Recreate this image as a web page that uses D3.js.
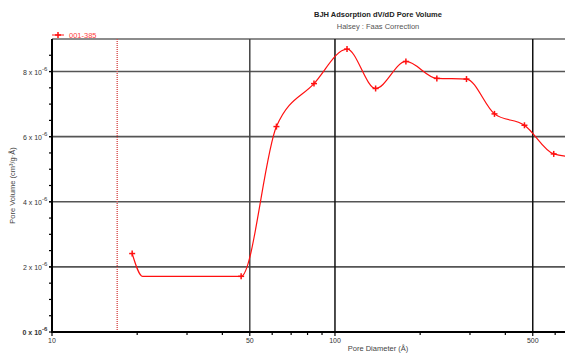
<!DOCTYPE html>
<html>
<head>
<meta charset="utf-8">
<script src="https://cdn.jsdelivr.net/npm/d3@7"></script>
<style>
  body { margin: 0; background: #fff; }
  text { font-family: "Liberation Sans", Arial, sans-serif; }
</style>
</head>
<body>
<div id="chart"></div>
<script>
// pore diameter (Å) and dV/dD pore volume (x 10^-6 cm³/g·Å)
var poreDiameter = [19.2, 20.9, 46.6, 62.1, 84.3, 110.3, 139.2, 178.1, 229.1, 291.6, 366.2, 467.3, 593, 730]
var poreVolume   = [2.41, 1.71, 1.71, 6.31, 7.63, 8.69, 7.48, 8.31, 7.79, 7.77, 6.70, 6.35, 5.47, 5.36]
var hasMarker    = [true, false, true, true, true, true, true, true, true, true, true, true, true, false]
var seriesName = "001-385"
var cutoffDiameter = 17
var yTicks = [0, 2, 4, 6, 8]
var yMinorTicks = d3.range(0.5, 9, 0.5)
var xLabelTicks = [10, 50, 100, 500]
var xMinorTicks = [20, 30, 40, 60, 70, 80, 90, 200, 300, 400, 600]

var W = 565, H = 354
var pLeft = 52, pRight = 565, pTop = 39, pBottom = 332

var data = poreDiameter.map((d,i)=>({d:d, v:poreVolume[i], m:hasMarker[i]}))

var svg = d3.select("#chart").append("svg").attr("width",W).attr("height",H)

var x = d3.scaleLog().domain([10,650]).range([pLeft,pRight])
var y = d3.scaleLinear().domain([0,9]).range([pBottom,pTop])

svg.append("defs").append("clipPath").attr("id","plot")
  .append("rect").attr("x",pLeft).attr("y",pTop).attr("width",pRight-pLeft).attr("height",pBottom-pTop)

// grid
svg.selectAll(".hgrid").data(yTicks.filter(d=>d>0).concat([9])).enter().append("line")
  .attr("x1",pLeft).attr("x2",pRight).attr("y1",d=>y(d)).attr("y2",d=>y(d))
  .style("stroke",(d)=>d==9?"#666":"#555").style("stroke-width",1.6)
svg.selectAll(".vgrid").data([50,100,500]).enter().append("line")
  .attr("x1",d=>x(d)).attr("x2",d=>x(d)).attr("y1",pTop).attr("y2",pBottom)
  .style("stroke",d=>d==50?"#444":"#111").style("stroke-width",1.5)

// cutoff line
svg.append("line")
  .attr("x1",x(cutoffDiameter)).attr("x2",x(cutoffDiameter)).attr("y1",pTop).attr("y2",pBottom)
  .style("stroke","#d85050").style("stroke-width",1.4).style("stroke-dasharray","1,1")

// axes
var yAxis = svg.append("g")
yAxis.append("line").attr("x1",pLeft).attr("x2",pLeft).attr("y1",pTop).attr("y2",pBottom+1)
  .style("stroke","#000").style("stroke-width",2)
yAxis.selectAll(".ytick").data(yMinorTicks.concat(yTicks)).enter().append("line")
  .attr("x1",pLeft-3).attr("x2",pLeft).attr("y1",d=>y(d)).attr("y2",d=>y(d))
  .style("stroke","#000").style("stroke-width",1.2)
yAxis.selectAll(".ylab").data(yTicks).enter().append("text")
  .attr("x",pLeft-10).attr("y",d=>y(d)+3)
  .attr("text-anchor","end").style("font-size","7px").style("fill","#333")
  .style("font-weight",d=>d==0?"bold":"normal")
  .text(d=>d+" x 10")
yAxis.selectAll(".yexp").data(yTicks).enter().append("text")
  .attr("x",pLeft-10).attr("y",d=>y(d)-1)
  .style("font-size","6px").style("fill","#333")
  .style("font-weight",d=>d==0?"bold":"normal")
  .text("-6")

var xAxis = svg.append("g")
xAxis.append("line").attr("x1",pLeft-1).attr("x2",pRight).attr("y1",pBottom).attr("y2",pBottom)
  .style("stroke","#000").style("stroke-width",2)
xAxis.selectAll(".xtick").data(xMinorTicks.concat(xLabelTicks)).enter().append("line")
  .attr("x1",d=>x(d)).attr("x2",d=>x(d)).attr("y1",pBottom).attr("y2",d=>xLabelTicks.includes(d)?pBottom+4:pBottom+3)
  .style("stroke","#000").style("stroke-width",1.2)
xAxis.selectAll(".xlab").data(xLabelTicks).enter().append("text")
  .attr("x",d=>x(d)).attr("y",pBottom+11)
  .attr("text-anchor","middle").style("font-size","7px").style("fill","#333")
  .text(d=>d)

svg.append("text").attr("x",378).attr("y",351).attr("text-anchor","middle")
  .style("font-size","7.5px").style("fill","#444").text("Pore Diameter (Å)")
svg.append("text").attr("transform","translate(15,"+((pTop+pBottom)/2)+") rotate(-90)")
  .attr("text-anchor","middle").style("font-size","7.5px").style("fill","#444")
  .text("Pore Volume (cm³/g·Å)")

// titles
svg.append("text").attr("x",378).attr("y",17).attr("text-anchor","middle")
  .style("font-size","7.5px").style("font-weight","bold").style("fill","#222")
  .text("BJH Adsorption dV/dD Pore Volume")
svg.append("text").attr("x",378).attr("y",29).attr("text-anchor","middle")
  .style("font-size","7.5px").style("fill","#555")
  .text("Halsey : Faas Correction")

// series
var line = d3.line().x(d=>x(d.d)).y(d=>y(d.v)).curve(d3.curveMonotoneX)
var g = svg.append("g").attr("clip-path","url(#plot)")
g.append("path").datum(data).attr("d",line)
  .style("fill","none").style("stroke","#ff1010").style("stroke-width",1.2)

function plus(sel){
  sel.append("line").attr("x1",-3).attr("x2",3).attr("y1",0).attr("y2",0)
  sel.append("line").attr("x1",0).attr("x2",0).attr("y1",-3).attr("y2",3)
  sel.selectAll("line").style("stroke","#ff1010").style("stroke-width",1.5)
}
g.selectAll("g.pt").data(data.filter(d=>d.m)).enter().append("g").classed("pt",true)
  .attr("transform",d=>"translate("+x(d.d)+","+y(d.v)+")")
  .call(plus)

// legend
var leg = svg.append("g").attr("transform","translate(52,35)")
leg.append("line").attr("x1",0).attr("x2",12).attr("y1",0).attr("y2",0)
  .style("stroke","#ff4040").style("stroke-width",1.2)
leg.append("g").attr("transform","translate(6,0)").call(plus)
leg.append("text").attr("x",17).attr("y",3).style("font-size","7.5px").style("fill","#ff4040")
  .text(seriesName)
</script>
</body>
</html>
